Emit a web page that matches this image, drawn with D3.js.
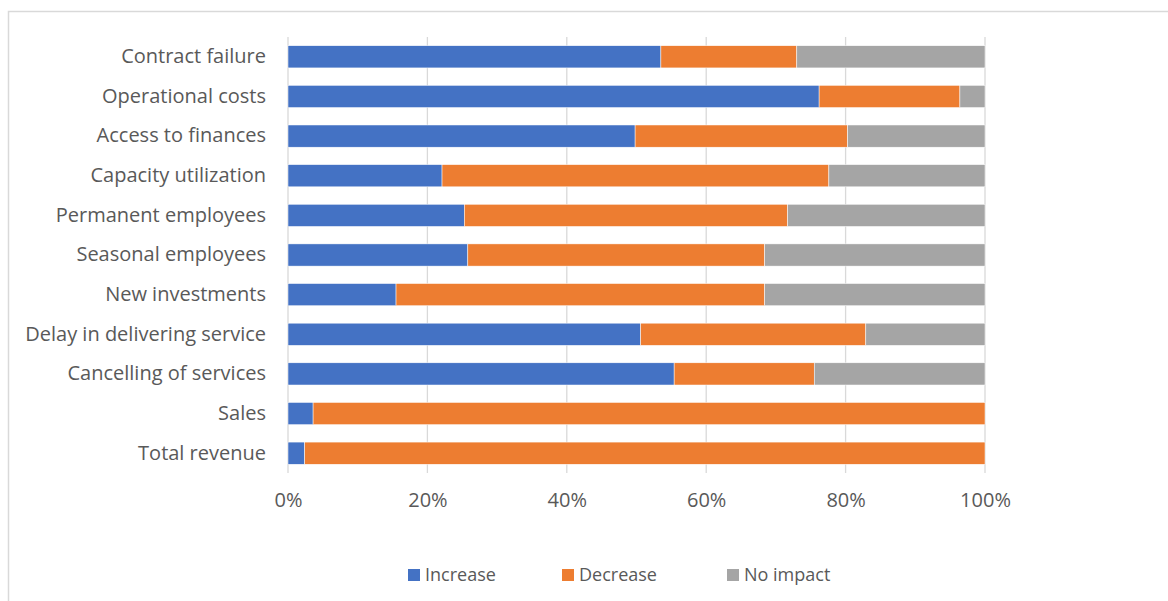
<!DOCTYPE html>
<html>
<head>
<meta charset="utf-8">
<script src="https://cdn.jsdelivr.net/npm/d3@7"></script>
<style>
  body { margin: 0; background: #fff; }
  svg text { font-family: "Open Sans", "Noto Sans", sans-serif; fill: #595959; }
</style>
</head>
<body>
<div id="chart"></div>
<script>
// categories top to bottom
const categories = ['Contract failure', 'Operational costs', 'Access to finances', 'Capacity utilization',
    'Permanent employees', 'Seasonal employees', 'New investments', 'Delay in delivering service',
    'Cancelling of services', 'Sales', 'Total revenue']
// percent of respondents
const increase = [53.5, 76.2, 49.8, 22.1, 25.3, 25.8, 15.5, 50.6, 55.4, 3.6, 2.4]
const decrease = [19.5, 20.2, 30.5, 55.5, 46.4, 42.6, 52.9, 32.3, 20.1, 96.4, 97.6]
const noImpact = [27.0, 3.6, 19.7, 22.4, 28.3, 31.6, 31.6, 17.1, 24.5, 0, 0]
const seriesNames = ['Increase', 'Decrease', 'No impact']
const colors = ['#4472c4', '#ed7d31', '#a5a5a5']
const xTicks = [0, 0.2, 0.4, 0.6, 0.8, 1]

const width = 1168, height = 601
const margin = { top: 37, right: 183, bottom: 128, left: 288 }
const innerWidth = width - margin.left - margin.right
const innerHeight = height - margin.top - margin.bottom

const svg = d3.select('#chart').append('svg').attr('width', width).attr('height', height)

// chart border, only left and top edge are in view
svg.append('path')
    .attr('d', `M8.5,${height} V11.5 H${width}`)
    .attr('fill', 'none').attr('stroke', '#d9d9d9').attr('stroke-width', 1.5)

const rows = categories.map((c, i) => ({ cat: c, Increase: increase[i], Decrease: decrease[i], 'No impact': noImpact[i] }))
rows.forEach(r => {
    const tot = r.Increase + r.Decrease + r['No impact']
    seriesNames.forEach(k => r[k] = r[k] / tot)
})
const stacked = d3.stack().keys(seriesNames)(rows)

const xScale = d3.scaleLinear().domain([0, 1]).range([0, innerWidth])
const yScale = d3.scaleBand().domain(categories).range([0, innerHeight]).paddingInner(0.44).paddingOuter(0.22)

const g = svg.append('g').attr('transform', `translate(${margin.left}, ${margin.top})`)

// gridlines
g.append('g').selectAll('line').data(xTicks).enter().append('line')
    .attr('x1', d => xScale(d)).attr('x2', d => xScale(d))
    .attr('y1', 0).attr('y2', innerHeight)
    .attr('stroke', '#d9d9d9').attr('stroke-width', 1.3)

// bars
g.selectAll('.serie').data(stacked).enter().append('g')
    .attr('fill', (d, i) => colors[i])
    .selectAll('rect').data(d => d).enter().append('rect')
    .attr('x', d => xScale(d[0]))
    .attr('width', d => xScale(d[1]) - xScale(d[0]))
    .attr('y', d => yScale(d.data.cat))
    .attr('height', yScale.bandwidth())
    .attr('stroke', '#fff').attr('stroke-width', 0.5)

// x axis
const xAxisG = g.append('g')
    .attr('transform', `translate(0, ${innerHeight})`)
    .call(d3.axisBottom(xScale).tickValues(xTicks).tickFormat(d3.format('.0%')).tickSize(0).tickPadding(20))
xAxisG.selectAll('.domain').remove()
xAxisG.selectAll('text').attr('font-size', 20).style('fill', '#595959')

// y axis
const yAxisG = g.append('g')
    .call(d3.axisLeft(yScale).tickSize(0).tickPadding(22))
yAxisG.selectAll('.domain').remove()
yAxisG.selectAll('text').attr('font-size', 20).style('fill', '#595959')

// legend
const legendX = [408, 562, 727]
const legend = svg.append('g').selectAll('g').data(seriesNames).enter().append('g')
    .attr('transform', (d, i) => `translate(${legendX[i]}, 575)`)
legend.append('rect').attr('x', 0).attr('y', -6).attr('width', 12).attr('height', 12)
    .attr('fill', (d, i) => colors[i])
legend.append('text').attr('x', 17).attr('dy', '0.35em').attr('font-size', 18).text(d => d)
</script>
</body>
</html>
